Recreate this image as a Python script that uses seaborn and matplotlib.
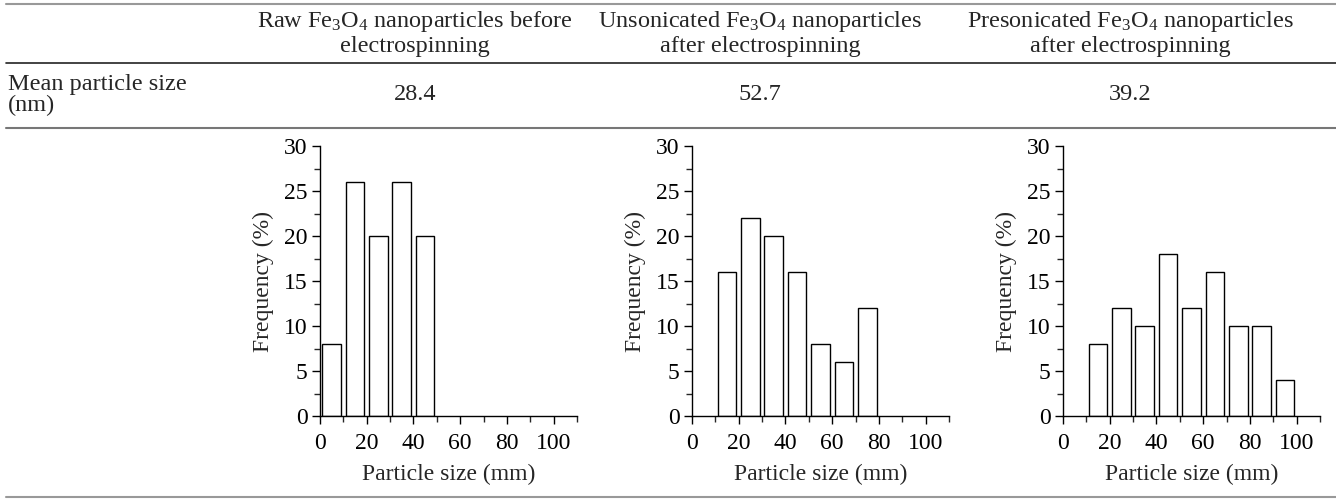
import numpy as np
import pandas as pd
import matplotlib
matplotlib.use("Agg")
import matplotlib.pyplot as plt
from matplotlib.lines import Line2D
from matplotlib.ticker import MultipleLocator
import seaborn as sns

# ---- data ----
col_titles = [r"Raw Fe$_3$O$_4$ nanoparticles before" + "\nelectrospinning",
              r"Unsonicated Fe$_3$O$_4$ nanoparticles" + "\nafter electrospinning",
              r"Presonicated Fe$_3$O$_4$ nanoparticles" + "\nafter electrospinning"]
row_label = "Mean particle size\n(nm)"
mean_sizes = ["28.4", "52.7", "39.2"]

raw_centers = [5, 15, 25, 35, 45]
raw_freq = [8, 26, 20, 26, 20]
unson_centers = [15, 25, 35, 45, 55, 65, 75]
unson_freq = [16, 22, 20, 16, 8, 6, 12]
preson_centers = [15, 25, 35, 45, 55, 65, 75, 85, 95]
preson_freq = [8, 12, 10, 18, 12, 16, 10, 10, 4]

xlabel = "Particle size (mm)"
ylabel = "Frequency (%)"

sns.set_theme(style="ticks")
plt.rcParams['font.family'] = ['Liberation Serif', 'DejaVu Serif']
plt.rcParams['mathtext.fontset'] = 'custom'
plt.rcParams['mathtext.rm'] = 'Liberation Serif'
plt.rcParams['mathtext.it'] = 'Liberation Serif:italic'
plt.rcParams['mathtext.bf'] = 'Liberation Serif:bold'

W, H = 1336, 499
fig = plt.figure(figsize=(W / 100, H / 100), dpi=100)

def fx(x):
    return x / W

def fy(y):
    return 1 - y / H

# table lines
for y, c, lw in [(4, '#999999', 1.5), (63, '#222222', 1.2), (128, '#777777', 1.5), (497, '#999999', 1.5)]:
    fig.add_artist(Line2D([fx(6), fx(1336)], [fy(y), fy(y)], color=c, lw=lw))

txt_size = 17.5
col_x = [415, 760, 1130]
for cx, t, m in zip(col_x, col_titles, mean_sizes):
    fig.text(fx(cx), fy(33), t, ha='center', va='center', fontsize=txt_size, linespacing=1.08)
    fig.text(fx(cx), fy(95), m, ha='center', va='center', fontsize=txt_size)
fig.text(fx(8), fy(95), row_label, ha='left', va='center', fontsize=txt_size, linespacing=1.05)

lab_size = 17
datasets = [(raw_centers, raw_freq), (unson_centers, unson_freq), (preson_centers, preson_freq)]
lefts = [320, 692, 1063]
for left, (cent, freq) in zip(lefts, datasets):
    ax = fig.add_axes([fx(left), fy(416), fx(257), (416 - 146) / H])
    df = pd.DataFrame({"size": np.asarray(cent, float), "freq": np.asarray(freq, float)})
    sns.histplot(data=df, x="size", weights="freq", binwidth=10,
                 binrange=(min(cent) - 5, max(cent) + 5), shrink=0.8,
                 color='white', edgecolor='black', linewidth=1.0, alpha=1, ax=ax)
    ax.set_xlim(0, 110)
    ax.set_ylim(0, 30)
    ax.set_xticks([0, 20, 40, 60, 80, 100])
    ax.xaxis.set_minor_locator(MultipleLocator(10))
    ax.set_yticks([0, 5, 10, 15, 20, 25, 30])
    ax.yaxis.set_minor_locator(MultipleLocator(2.5))
    ax.tick_params(which='major', direction='out', length=6, width=1, labelsize=lab_size, colors='black', pad=3)
    ax.tick_params(axis='x', which='major', pad=6)
    ax.tick_params(which='minor', direction='out', length=4, width=1)
    sns.despine(ax=ax)
    for s in ['left', 'bottom']:
        ax.spines[s].set_linewidth(1)
        ax.spines[s].set_color('black')
    ax.set_xlabel(xlabel, fontsize=lab_size, labelpad=7)
    ax.set_ylabel(ylabel, fontsize=lab_size, labelpad=7)
    ax.set_facecolor('none')

fig.savefig("out.png", dpi=100)
